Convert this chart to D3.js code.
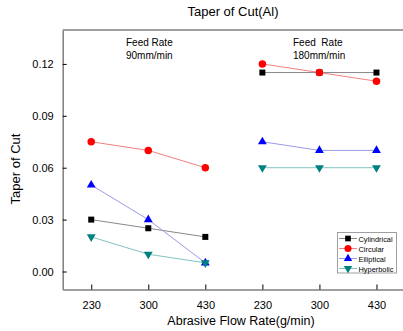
<!DOCTYPE html>
<html><head><meta charset="utf-8">
<script src="https://cdn.jsdelivr.net/npm/d3@7"></script>
<style>body{margin:0;background:#fff}svg{display:block}text{font-family:"Liberation Sans",Arial,sans-serif}</style>
</head><body><svg id="c" width="403" height="331"></svg>
<script>
const tickLabels = ["230","300","430","230","300","430"];
const groups = [[1,2,3],[4,5,6]];
const seriesNames = ["Cylindrical","Circular","Elliptical","Hyperbolic"];
const cylindrical = [0.030,0.025,0.020,0.115,0.115,0.115];
const circular    = [0.075,0.070,0.060,0.120,0.115,0.110];
const elliptical  = [0.050,0.030,0.005,0.075,0.070,0.070];
const hyperbolic  = [0.020,0.010,0.005,0.060,0.060,0.060];
const yTicks = [0.00,0.03,0.06,0.09,0.12];

const series = [
  {name:seriesNames[0], vals:cylindrical, color:"#000000", line:"#888888", sym:d3.symbolSquare, size:36},
  {name:seriesNames[1], vals:circular, color:"#ff0000", line:"#f08080", sym:d3.symbolCircle, size:44},
  {name:seriesNames[2], vals:elliptical, color:"#0000ff", line:"#9a9ae8", sym:d3.symbolTriangle, size:34},
  {name:seriesNames[3], vals:hyperbolic, color:"#008080", line:"#80c4c0", sym:d3.symbolTriangle, size:34, flip:true}
];

const svg = d3.select("#c");
const L=62.7, R=405, T=30, B=289.5;
const x = d3.scaleLinear().domain([0.5,6.5]).range([L,R]);
const y = d3.scaleLinear().domain([-0.0104,0.1396]).range([B,T]);

const frame = "#7f7f7f";
const gx = svg.append("g").attr("transform",`translate(0,${B})`)
  .call(d3.axisBottom(x).tickValues([1,2,3,4,5,6]).tickFormat((d,i)=>tickLabels[i]).tickSizeInner(-5).tickSizeOuter(0).tickPadding(12));
const gy = svg.append("g").attr("transform",`translate(${L},0)`)
  .call(d3.axisLeft(y).tickValues(yTicks).tickFormat(d3.format(".2f")).tickSizeInner(-4).tickSizeOuter(0).tickPadding(9));
[gx,gy].forEach(g=>{
  g.select(".domain").attr("stroke",frame).attr("stroke-width",1.5);
  g.selectAll(".tick line").attr("stroke","#000").attr("stroke-width",1);
  g.selectAll(".tick text").attr("font-size",11).attr("fill","#000").attr("font-family","Liberation Sans, Arial, sans-serif");
});
svg.append("line").attr("x1",L).attr("x2",R).attr("y1",T).attr("y2",T).attr("stroke",frame).attr("stroke-width",1.5);

const line = d3.line().x(d=>x(d[0])).y(d=>y(d[1]));
series.forEach(s=>{
  groups.forEach(g=>{
    svg.append("path").attr("d",line(g.map(i=>[i,s.vals[i-1]]))).attr("fill","none").attr("stroke",s.line).attr("stroke-width",1);
  });
});
series.forEach(s=>{
  const sym = d3.symbol().type(s.sym).size(s.size);
  s.vals.forEach((v,i)=>{
    svg.append("path").attr("d",sym()).attr("fill",s.color)
      .attr("transform",`translate(${x(i+1)},${y(v)})${s.flip?" rotate(180)":""}`);
  });
});

svg.append("text").attr("x",233).attr("y",16).attr("text-anchor","middle").attr("font-size",13).text("Taper of Cut(Al)");
svg.append("text").attr("transform","translate(20,169) rotate(-90)").attr("text-anchor","middle").attr("font-size",13).text("Taper of Cut");
svg.append("text").attr("x",241).attr("y",325).attr("text-anchor","middle").attr("font-size",12.5).text("Abrasive Flow Rate(g/min)");

const ann = [["Feed Rate","90mm/min",126],["Feed  Rate","180mm/min",293]];
ann.forEach(a=>{
  const t = svg.append("text").attr("font-size",10).attr("text-anchor","start").attr("xml:space","preserve");
  t.append("tspan").attr("x",a[2]).attr("y",46).text(a[0]);
  t.append("tspan").attr("x",a[2]).attr("y",59).text(a[1]);
});

const lg = svg.append("g");
lg.append("rect").attr("x",337.5).attr("y",232.5).attr("width",59).attr("height",40.5).attr("fill","#fff").attr("stroke","#888").attr("stroke-width",0.8);
series.forEach((s,i)=>{
  const yy = 238.5+i*10;
  lg.append("line").attr("x1",339).attr("x2",357).attr("y1",yy).attr("y2",yy).attr("stroke",s.line).attr("stroke-width",1);
  const sym = d3.symbol().type(s.sym).size(s.size*0.9);
  lg.append("path").attr("d",sym()).attr("fill",s.color).attr("transform",`translate(348,${yy})${s.flip?" rotate(180)":""}`);
  lg.append("text").attr("x",358.5).attr("y",yy+3).attr("font-size",7.4).text(s.name);
});
</script></body></html>
